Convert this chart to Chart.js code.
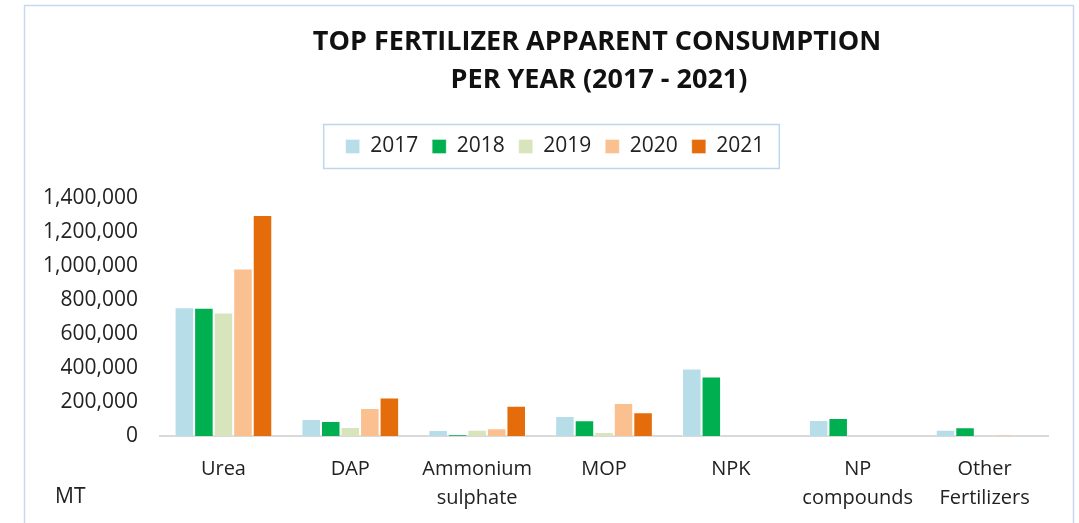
<!DOCTYPE html>
<html>
<head>
<meta charset="utf-8">
<script src="https://cdn.jsdelivr.net/npm/chart.js@4.4.0/dist/chart.umd.min.js"></script>
<style>
  html, body { margin: 0; padding: 0; background: #fff; }
  #wrap { width: 1079px; height: 523px; position: relative; }
</style>
</head>
<body>
<div id="wrap"><canvas id="fertChart" width="1079" height="523"></canvas></div>
<script>
// Data (MT)
const categories = ['Urea', 'DAP', ['Ammonium', 'sulphate'], 'MOP', 'NPK', ['NP', 'compounds'], ['Other', 'Fertilizers']];
const years = ['2017', '2018', '2019', '2020', '2021'];
const v2017 = [758000, 100000, 35000, 117000, 397000, 94000, 37000];
const v2018 = [755000, 88000, 8000, 92000, 350000, 106000, 51000];
const v2019 = [727000, 53000, 37000, 23000, 0, 0, 0];
const v2020 = [985000, 164000, 45000, 194000, 0, 0, 6000];
const v2021 = [1300000, 227000, 178000, 139000, 0, 0, 0];
const yTicks = [0, 200000, 400000, 600000, 800000, 1000000, 1200000, 1400000];
const titleLines = ['TOP FERTILIZER APPARENT CONSUMPTION', 'PER YEAR (2017 - 2021)'];

const colors = ['#B7DDE8', '#00B050', '#D8E4BC', '#FAC090', '#E46C0A'];
const series = [v2017, v2018, v2019, v2020, v2021];

const FONT = "'Open Sans', 'Liberation Sans', sans-serif";

// frame, title, legend box and the "MT" unit text
const extras = {
    id: 'extras',
    afterLayout(chart) {
        // let the y labels use the space left of the padding (no clipping)
        chart.scales.y.left = 0;
    },
    afterDraw(chart) {
        const ctx = chart.ctx;
        ctx.save();
        ctx.strokeStyle = '#C6D9F1';
        ctx.lineWidth = 1.5;
        ctx.strokeRect(24.5, 5.5, 1049, 540);

        // title is centred over the plot, not the legend
        ctx.fillStyle = '#111';
        ctx.font = 'bold 27px ' + FONT;
        ctx.textAlign = 'center';
        ctx.textBaseline = 'middle';
        ctx.fillText(titleLines[0], 597, 42);
        ctx.fillText(titleLines[1], 599, 80);

        const boxes = chart.legend.legendHitBoxes;
        if (boxes && boxes.length) {
            const l = Math.min(...boxes.map(b => b.left));
            const r = Math.max(...boxes.map(b => b.left + b.width));
            const t = Math.min(...boxes.map(b => b.top));
            const h = boxes[0].height;
            ctx.strokeStyle = '#BDD7EE';
            ctx.lineWidth = 1.5;
            ctx.strokeRect(l - 22, t + h / 2 - 22, r - l + 37, 44);
        }

        ctx.fillStyle = '#222';
        ctx.font = '21px ' + FONT;
        ctx.textBaseline = 'middle';
        ctx.textAlign = 'left';
        ctx.fillText('MT', 55, 497);
        ctx.restore();
    }
};

const ctx = document.getElementById('fertChart').getContext('2d');
const fertChart = new Chart(ctx, {
    type: 'bar',
    data: {
        labels: categories,
        datasets: years.map((y, i) => ({
            label: y,
            data: series[i],
            backgroundColor: colors[i],
            borderColor: 'rgba(255,255,255,0.35)',
            borderWidth: 1,
            barPercentage: 1,
            categoryPercentage: 0.77
        }))
    },
    options: {
        responsive: false,
        animation: false,
        devicePixelRatio: 1,
        // left padding shifts the legend centre; the y axis width makes up for it
        layout: { padding: { left: 62, right: 31, top: 122, bottom: 0 } },
        plugins: {
            title: { display: false },
            // empty spacer between legend and plot
            subtitle: {
                display: true,
                text: ' ',
                weight: 500,
                font: { size: 10, lineHeight: 1 },
                padding: { top: 9, bottom: 12 }
            },
            legend: {
                display: true,
                position: 'top',
                labels: {
                    color: '#222',
                    font: { family: FONT, size: 21 },
                    boxWidth: 14,
                    boxHeight: 14,
                    padding: 14
                }
            },
            tooltip: { enabled: false }
        },
        scales: {
            x: {
                grid: { display: false, drawTicks: false },
                border: { display: true, color: '#D9D9D9', width: 2 },
                ticks: {
                    color: '#222',
                    font: { family: FONT, size: 20, lineHeight: 1.45 },
                    padding: 19,
                    maxRotation: 0,
                    autoSkip: false
                },
                afterFit(scale) { scale.height = 87; }
            },
            y: {
                min: 0,
                max: 1400000,
                grid: { display: false, drawTicks: false },
                border: { display: false },
                afterBuildTicks(scale) { scale.ticks = yTicks.map(v => ({ value: v })); },
                ticks: {
                    color: '#222',
                    font: { family: FONT, size: 21 },
                    padding: 22,
                    callback: v => v.toLocaleString('en-US')
                },
                afterFit(scale) { scale.width = 98; }
            }
        }
    },
    plugins: [extras]
});
</script>
</body>
</html>
